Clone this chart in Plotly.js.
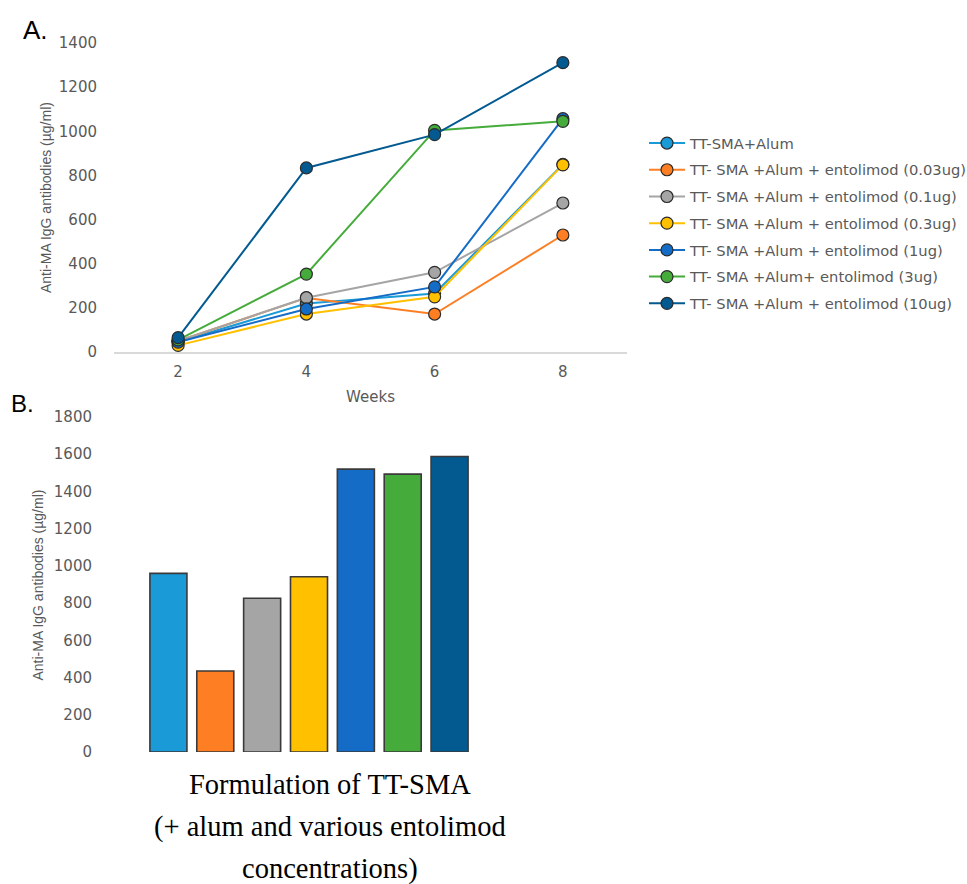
<!DOCTYPE html>
<html>
<head>
<meta charset="utf-8">
<script src="https://cdn.plot.ly/plotly-3.0.1.min.js"></script>
<style>
html,body{margin:0;padding:0;background:#fff;}
#chart{width:967px;height:884px;}
</style>
</head>
<body>
<div id="chart"></div>
<script>
// ---- data ----
const weeks = [2, 4, 6, 8];
const seriesNames = [
  "TT-SMA+Alum",
  "TT- SMA +Alum + entolimod (0.03ug)",
  "TT- SMA +Alum + entolimod (0.1ug)",
  "TT- SMA +Alum + entolimod (0.3ug)",
  "TT- SMA +Alum + entolimod (1ug)",
  "TT- SMA +Alum+ entolimod (3ug)",
  "TT- SMA +Alum + entolimod (10ug)"
];
const alumOnly   = [45, 220, 265, 850];
const ento003    = [50, 245, 172, 530];
const ento01     = [50, 246, 361, 675];
const ento03     = [30, 172, 250, 848];
const ento1      = [45, 195, 295, 1057];
const ento3      = [55, 353, 1004, 1045];
const ento10     = [65, 834, 985, 1311];
const lineSeries = [alumOnly, ento003, ento01, ento03, ento1, ento3, ento10];

const barCategories = ["c1", "c2", "c3", "c4", "c5", "c6", "c7"];
const barValues = [960, 435, 826, 942, 1520, 1493, 1588];

const colors = ["#1A9AD6", "#FD7E23", "#A5A5A5", "#FFC000", "#156CC6", "#45AC3B", "#035A91"];

const yTicksTop = [0, 200, 400, 600, 800, 1000, 1200, 1400];
const yTicksBottom = [0, 200, 400, 600, 800, 1000, 1200, 1400, 1600, 1800];
const yTitle = "Anti-MA IgG antibodies (µg/ml)";

// ---- layout helpers ----
const W = 967, H = 884;
const px = v => v / W;
const py = v => 1 - v / H;

const traces = [];
lineSeries.forEach((vals, i) => {
  traces.push({
    type: "scatter", mode: "lines+markers",
    x: weeks, y: vals, name: seriesNames[i],
    xaxis: "x", yaxis: "y",
    legendgroup: "g" + i,
    line: {color: colors[i], width: 2},
    marker: {color: colors[i], size: 12, line: {color: "#2b2b2b", width: 1.2}},
    cliponaxis: false,
    hoverinfo: "x+y+name"
  });
});
traces.push({
  type: "bar", x: barCategories, y: barValues,
  xaxis: "x2", yaxis: "y2", showlegend: false,
  marker: {color: colors, line: {color: "#3a3a3a", width: 1.6}}
});

const tickFont = {family: "DejaVu Sans", size: 15, color: "#595959"};
const titleFont = {family: "Liberation Sans", size: 14, color: "#595959"};

const layout = {
  width: W, height: H,
  margin: {l: 0, r: 0, t: 0, b: 0, autoexpand: false},
  paper_bgcolor: "#fff", plot_bgcolor: "#fff",
  showlegend: true,
  bargap: 0.21,
  xaxis: {
    domain: [px(114), px(627)], range: [1, 9],
    tickvals: weeks, ticktext: weeks.map(String),
    showgrid: false, zeroline: false,
    showline: true, linecolor: "#D9D9D9", linewidth: 1.5,
    ticks: "", tickfont: tickFont, ticklabelstandoff: 5,
    title: {text: "Weeks", font: {family: "DejaVu Sans", size: 15, color: "#595959"}, standoff: 12},
    anchor: "y", fixedrange: true
  },
  yaxis: {
    domain: [py(352), py(43)], range: [0, 1400],
    tickvals: yTicksTop, showgrid: false, zeroline: false, showline: false,
    ticks: "", tickfont: tickFont, ticklabelstandoff: 16,
    anchor: "x", fixedrange: true
  },
  xaxis2: {
    domain: [px(145), px(473)],
    showgrid: false, zeroline: false, showline: false,
    showticklabels: false, ticks: "",
    anchor: "y2", fixedrange: true
  },
  yaxis2: {
    domain: [py(752), py(417)], range: [0, 1800],
    tickvals: yTicksBottom, showgrid: false, zeroline: false, showline: false,
    ticks: "", tickfont: tickFont, ticklabelstandoff: 52,
    anchor: "x2", fixedrange: true
  },
  legend: {
    x: px(644), y: py(127), xanchor: "left", yanchor: "top",
    font: {family: "DejaVu Sans", size: 14.7, color: "#595959"},
    tracegroupgap: 4.6, itemwidth: 36,
    bgcolor: "rgba(0,0,0,0)"
  },
  annotations: [
    {text: yTitle, x: px(46), y: py(198), xref: "paper", yref: "paper", xanchor: "center", yanchor: "middle",
     textangle: -90, showarrow: false, font: titleFont},
    {text: yTitle, x: px(37.5), y: py(585), xref: "paper", yref: "paper", xanchor: "center", yanchor: "middle",
     textangle: -90, showarrow: false, font: titleFont},
    {text: "A.", x: px(21), y: py(30), xref: "paper", yref: "paper", xanchor: "left", yanchor: "middle",
     showarrow: false, font: {family: "Liberation Sans", size: 26, color: "#000"}},
    {text: "B.", x: px(9), y: py(404), xref: "paper", yref: "paper", xanchor: "left", yanchor: "middle",
     showarrow: false, font: {family: "Liberation Sans", size: 24, color: "#000"}},
    {text: "Formulation of TT-SMA", x: px(330), y: py(784), xref: "paper", yref: "paper", xanchor: "center", yanchor: "middle",
     showarrow: false, font: {family: "Liberation Serif", size: 28.5, color: "#000"}},
    {text: "(+ alum and various entolimod", x: px(330), y: py(827), xref: "paper", yref: "paper", xanchor: "center", yanchor: "middle",
     showarrow: false, font: {family: "Liberation Serif", size: 28.5, color: "#000"}},
    {text: "concentrations)", x: px(330), y: py(869), xref: "paper", yref: "paper", xanchor: "center", yanchor: "middle",
     showarrow: false, font: {family: "Liberation Serif", size: 28.5, color: "#000"}}
  ]
};

Plotly.newPlot("chart", traces, layout, {displayModeBar: false, staticPlot: true});
</script>
</body>
</html>
